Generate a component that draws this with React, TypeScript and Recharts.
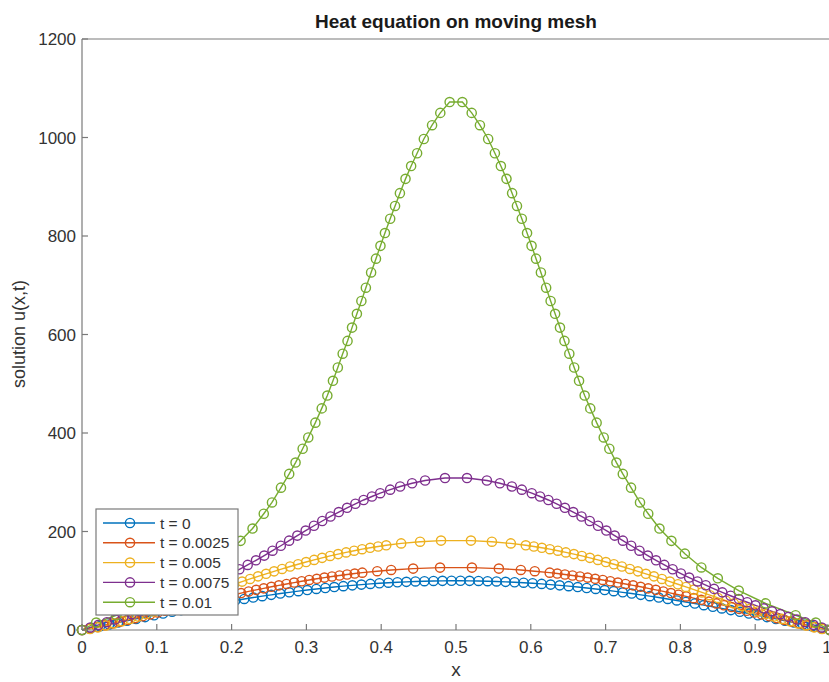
import { LineChart, Line, XAxis, YAxis, Label } from 'recharts';

const xTicks = [0, 0.1, 0.2, 0.3, 0.4, 0.5, 0.6, 0.7, 0.8, 0.9, 1];
const xTickLabels = ['0', '0.1', '0.2', '0.3', '0.4', '0.5', '0.6', '0.7', '0.8', '0.9', '1'];
const yTicks = [0, 200, 400, 600, 800, 1000, 1200];

const seriesNames = ['t = 0', 't = 0.0025', 't = 0.005', 't = 0.0075', 't = 0.01'];
const seriesColors = ['#0072BD', '#D95319', '#EDB120', '#7E2F8E', '#77AC30'];

// mesh points and solution values, one pair of arrays per time level
const meshT0 = [0, .012, .0241, .0361, .0482, .0602, .0723, .0843, .0964, .1084, .1205, .1325, .1446, .1566, .1687, .1807, .1928, .2048, .2169, .2289, .241, .253, .2651, .2771, .2892, .3012, .3133, .3253, .3373, .3494, .3614, .3735, .3855, .3976, .4096, .4217, .4337, .4458, .4578, .4699, .4819, .494,
  .506, .5181, .5301, .5422, .5542, .5663, .5783, .5904, .6024, .6145, .6265, .6386, .6506, .6627, .6747, .6867, .6988, .7108, .7229, .7349, .747, .759, .7711, .7831, .7952, .8072, .8193, .8313, .8434, .8554, .8675, .8795, .8916, .9036, .9157, .9277, .9398, .9518, .9639, .9759, .988, 1];
const uT0 = [0, 3.8, 7.6, 11.3, 15.1, 18.8, 22.5, 26.2, 29.8, 33.4, 37, 40.4, 43.9, 47.2, 50.5, 53.8, 56.9, 60, 63, 65.9, 68.7, 71.4, 74, 76.5, 78.9, 81.1, 83.3, 85.3, 87.2, 89, 90.7, 92.2, 93.6, 94.9, 96, 97, 97.8, 98.6, 99.1, 99.6, 99.8, 100,
  100, 99.8, 99.6, 99.1, 98.6, 97.8, 97, 96, 94.9, 93.6, 92.2, 90.7, 89, 87.2, 85.3, 83.3, 81.1, 78.9, 76.5, 74, 71.4, 68.7, 65.9, 63, 60, 56.9, 53.8, 50.5, 47.2, 43.9, 40.4, 37, 33.4, 29.8, 26.2, 22.5, 18.8, 15.1, 11.3, 7.6, 3.8, 0];

const meshT1 = [0, .0101, .0203, .0304, .0405, .0506, .0608, .0709, .081, .0911, .1013, .1114, .1215, .1317, .1418, .1519, .162, .1722, .1823, .1924, .2025, .2127, .2228, .2329, .243, .2532, .2633, .2734, .2836, .2937, .3038, .3139, .3241, .3342, .3443, .3544, .3646, .3747, .3947, .4133, .4427, .4787,
  .5213, .5573, .5867, .6053, .6253, .6354, .6456, .6557, .6658, .6759, .6861, .6962, .7063, .7164, .7266, .7367, .7468, .757, .7671, .7772, .7873, .7975, .8076, .8177, .8278, .838, .8481, .8582, .8683, .8785, .8886, .8987, .9089, .919, .9291, .9392, .9494, .9595, .9696, .9797, .9899, 1];
const uT1 = [0, 2.9, 6.1, 9.6, 13.1, 16.7, 20.4, 24.1, 27.8, 31.6, 35.4, 39.1, 42.9, 46.6, 50.3, 54, 57.6, 61.2, 64.7, 68.2, 71.6, 75, 78.3, 81.5, 84.6, 87.7, 90.7, 93.5, 96.3, 99, 101.6, 104, 106.4, 108.6, 110.7, 112.7, 114.6, 116.4, 119.4, 121.9, 124.7, 126.7,
  126.7, 124.7, 121.9, 119.4, 116.4, 114.6, 112.7, 110.7, 108.6, 106.4, 104, 101.6, 99, 96.3, 93.5, 90.7, 87.7, 84.6, 81.5, 78.3, 75, 71.6, 68.2, 64.7, 61.2, 57.6, 54, 50.3, 46.6, 42.9, 39.1, 35.4, 31.6, 27.8, 24.1, 20.4, 16.7, 13.1, 9.6, 6.1, 2.9, 0];

const meshT2 = [0, .0107, .0214, .0321, .0428, .0535, .0642, .0749, .0856, .0963, .107, .1177, .1284, .1391, .1498, .1605, .1712, .1819, .1926, .2033, .214, .2247, .2354, .2461, .2568, .2675, .2782, .2889, .2996, .3103, .321, .3317, .3424, .3531, .3638, .3745, .3852, .3959, .4067, .4267, .452, .48,
  .52, .548, .5733, .5933, .6041, .6148, .6255, .6362, .6469, .6576, .6683, .679, .6897, .7004, .7111, .7218, .7325, .7432, .7539, .7646, .7753, .786, .7967, .8074, .8181, .8288, .8395, .8502, .8609, .8716, .8823, .893, .9037, .9144, .9251, .9358, .9465, .9572, .9679, .9786, .9893, 1];
const uT2 = [0, 2.2, 5.4, 9.2, 13.4, 17.8, 22.5, 27.4, 32.5, 37.7, 43, 48.5, 54, 59.5, 65.1, 70.7, 76.3, 81.9, 87.4, 92.9, 98.3, 103.7, 108.9, 114.1, 119.1, 124, 128.9, 133.5, 138, 142.3, 146.5, 150.4, 154.1, 157.6, 161, 164.1, 166.9, 169.5, 172, 175.8, 179.3, 181.5,
  181.5, 179.3, 175.8, 172, 169.5, 166.9, 164.1, 161, 157.6, 154.1, 150.4, 146.5, 142.3, 138, 133.5, 128.9, 124, 119.1, 114.1, 108.9, 103.7, 98.3, 92.9, 87.4, 81.9, 76.3, 70.7, 65.1, 59.5, 54, 48.5, 43, 37.7, 32.5, 27.4, 22.5, 17.8, 13.4, 9.2, 5.4, 2.2, 0];

const meshT3 = [0, .0111, .0221, .0332, .0443, .0554, .0664, .0775, .0886, .0997, .1107, .1218, .1329, .144, .155, .1661, .1772, .1883, .1993, .2104, .2215, .2326, .2436, .2547, .2658, .2769, .2879, .299, .3101, .3212, .3322, .3433, .3544, .3655, .3765, .3876, .3987, .412, .4253, .4413, .4587, .4853,
  .5147, .5413, .5587, .5747, .588, .6013, .6124, .6235, .6345, .6456, .6567, .6678, .6788, .6899, .701, .7121, .7231, .7342, .7453, .7564, .7674, .7785, .7896, .8007, .8117, .8228, .8339, .845, .856, .8671, .8782, .8893, .9003, .9114, .9225, .9336, .9446, .9557, .9668, .9779, .9889, 1];
const uT3 = [0, 5.2, 10.5, 15.8, 21.2, 26.7, 32.2, 38, 44, 50.1, 56.3, 62.8, 69.5, 76.4, 83.5, 90.9, 98.6, 106.5, 114.7, 123.3, 132.2, 141.5, 151.1, 161, 171.1, 181.4, 191.7, 201.9, 211.7, 221.3, 230.5, 239.5, 248.1, 256.3, 264, 271.1, 277.8, 285, 291.4, 298, 303.6, 308.5,
  308.5, 303.6, 298, 291.4, 285, 277.8, 271.1, 264, 256.3, 248.1, 239.5, 230.5, 221.3, 211.7, 201.9, 191.7, 181.4, 171.1, 161, 151.1, 141.5, 132.2, 123.3, 114.7, 106.5, 98.6, 90.9, 83.5, 76.4, 69.5, 62.8, 56.3, 50.1, 44, 38, 32.2, 26.7, 21.2, 15.8, 10.5, 5.2, 0];

const meshT4 = [0, .019, .046, .086, .122, .15, .172, .194, .212, .228, .243, .254, .266, .277, .2855, .295, .3025, .312, .3205, .328, .3355, .342, .3485, .355, .361, .3675, .3735, .3795, .3865, .393, .399, .405, .412, .4185, .425, .4325, .44, .448, .457, .468, .479, .4915,
  .5085, .521, .532, .543, .552, .56, .5675, .575, .5815, .588, .595, .601, .607, .6135, .6205, .6265, .6325, .639, .645, .6515, .658, .6645, .672, .6795, .688, .6975, .705, .7145, .723, .734, .746, .757, .772, .788, .806, .828, .85, .878, .914, .954, .981, 1];
const uT4 = [0, 15, 30, 54, 80, 105, 127, 155, 181, 206, 236, 259, 289, 317, 340, 368, 391, 421, 450, 476, 506, 533, 561, 587, 614, 642, 668, 695, 726, 754, 780, 806, 835, 861, 887, 916, 942, 968, 997, 1025, 1050, 1072,
  1072, 1050, 1025, 997, 968, 942, 916, 887, 861, 835, 806, 780, 754, 726, 695, 668, 642, 614, 587, 561, 533, 506, 476, 450, 421, 391, 368, 340, 317, 289, 259, 236, 206, 181, 155, 127, 105, 80, 54, 30, 15, 0];

const meshes = [meshT0, meshT1, meshT2, meshT3, meshT4];
const values = [uT0, uT1, uT2, uT3, uT4];

const series = seriesNames.map((name, i) => ({
  name,
  color: seriesColors[i],
  data: meshes[i].map((x, j) => ({ x, u: values[i][j] })),
}));

const font = "'Liberation Sans', Arial, Helvetica, sans-serif";
const axisColor = '#7a7a7a';
const textColor = '#333';
const lineW = 1.4;

const BottomTick = (props: any) => {
  const { x, y, payload } = props;
  const i = xTicks.indexOf(payload.value);
  return (
    <g>
      <line x1={x} y1={y} x2={x} y2={y - 6} stroke={axisColor} strokeWidth={1.2} />
      <text x={x} y={y + 23} textAnchor="middle" fontSize={17} fontFamily={font} fill={textColor}>
        {xTickLabels[i]}
      </text>
    </g>
  );
};

const LeftTick = (props: any) => {
  const { x, y, payload } = props;
  return (
    <g>
      <line x1={x} y1={y} x2={x + 6} y2={y} stroke={axisColor} strokeWidth={1.2} />
      <text x={x - 6} y={y} dy="0.36em" textAnchor="end" fontSize={17} fontFamily={font} fill={textColor}>
        {payload.value}
      </text>
    </g>
  );
};

const TopTick = (props: any) => {
  const { x, y } = props;
  return <line x1={x} y1={y} x2={x} y2={y + 6} stroke={axisColor} strokeWidth={1.2} />;
};

const RightTick = (props: any) => {
  const { x, y } = props;
  return <line x1={x} y1={y} x2={x - 6} y2={y} stroke={axisColor} strokeWidth={1.2} />;
};

function LegendBox() {
  return (
    <svg
      width={144}
      height={108}
      style={{ position: 'absolute', left: 95, top: 508 }}
    >
      <rect x={1} y={1} width={142} height={106} fill="#fff" stroke={axisColor} strokeWidth={1.2} />
      {series.map((s, i) => {
        const cy = 15 + i * 19.8;
        return (
          <g key={s.name}>
            <line x1={8} y1={cy} x2={60} y2={cy} stroke={s.color} strokeWidth={lineW} />
            <circle cx={35} cy={cy} r={4.6} fill="none" stroke={s.color} strokeWidth={lineW} />
            <text x={65} y={cy} dy="0.36em" fontSize={15.5} fontFamily={font} fill={textColor}>
              {s.name}
            </text>
          </g>
        );
      })}
    </svg>
  );
}

export default function App() {
  return (
    <div
      style={{
        position: 'absolute',
        left: 0,
        top: 0,
        width: 829,
        height: 682,
        overflow: 'hidden',
        background: '#fff',
      }}
    >
      <LineChart width={831} height={682} margin={{ top: 38, right: 0, bottom: 22, left: 22 }}>
        <XAxis
          dataKey="x"
          type="number"
          domain={[0, 1]}
          ticks={xTicks}
          height={30}
          tickSize={0}
          tickMargin={0}
          tickLine={false}
          tick={<BottomTick />}
          axisLine={{ stroke: axisColor, strokeWidth: 1.2 }}
        >
          <Label
            content={() => (
              <text x={456} y={676} textAnchor="middle" fontSize={19} fontFamily={font} fill={textColor}>
                x
              </text>
            )}
          />
        </XAxis>
        <XAxis
          xAxisId="top"
          orientation="top"
          type="number"
          domain={[0, 1]}
          ticks={xTicks}
          height={1}
          tickSize={0}
          tickMargin={0}
          tickLine={false}
          tick={<TopTick />}
          axisLine={{ stroke: axisColor, strokeWidth: 1.2 }}
        >
          <Label
            content={() => (
              <text x={456} y={28} textAnchor="middle" fontSize={19} fontWeight="bold" fontFamily={font} fill="#1a1a1a">
                Heat equation on moving mesh
              </text>
            )}
          />
        </XAxis>
        <YAxis
          type="number"
          domain={[0, 1200]}
          ticks={yTicks}
          width={60}
          tickSize={0}
          tickMargin={0}
          tickLine={false}
          tick={<LeftTick />}
          axisLine={{ stroke: axisColor, strokeWidth: 1.2 }}
        >
          <Label
            content={() => (
              <text
                x={19}
                y={334}
                transform="rotate(-90 19 334)"
                textAnchor="middle"
                dy="0.36em"
                fontSize={18}
                fontFamily={font}
                fill={textColor}
              >
                solution u(x,t)
              </text>
            )}
          />
        </YAxis>
        <YAxis
          yAxisId="right"
          orientation="right"
          type="number"
          domain={[0, 1200]}
          ticks={yTicks}
          width={1}
          tickSize={0}
          tickMargin={0}
          tickLine={false}
          tick={<RightTick />}
          axisLine={{ stroke: axisColor, strokeWidth: 1.2 }}
        />
        {series.map((s) => (
          <Line
            key={s.name}
            data={s.data}
            dataKey="u"
            name={s.name}
            type="linear"
            stroke={s.color}
            strokeWidth={lineW}
            dot={{ r: 4.6, fill: 'none', stroke: s.color, strokeWidth: lineW, clipDot: false }}
            activeDot={false}
            isAnimationActive={false}
          />
        ))}
      </LineChart>
      <LegendBox />
    </div>
  );
}
